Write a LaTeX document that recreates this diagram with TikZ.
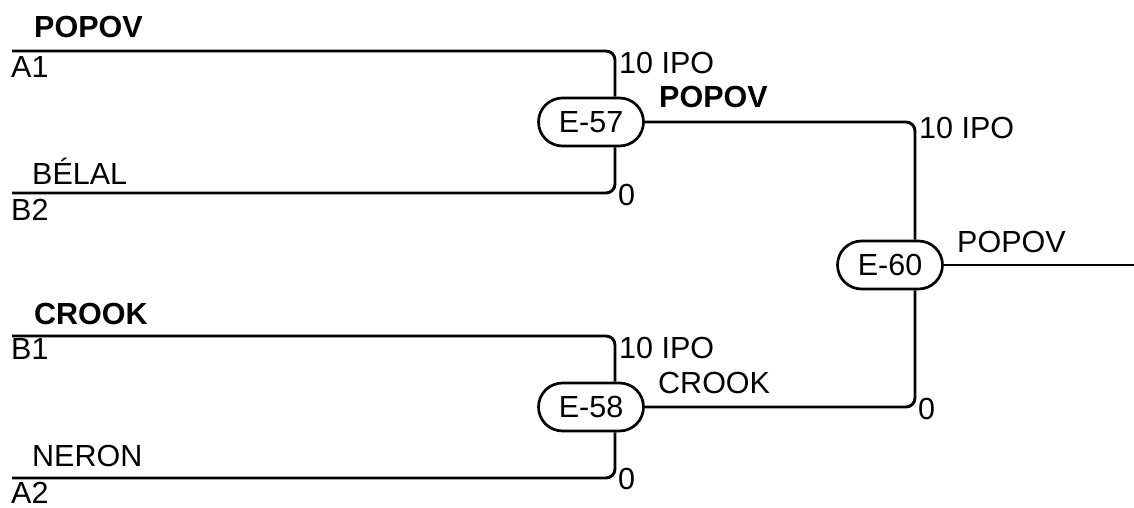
\documentclass[tikz,border=0pt]{standalone}
\usepackage{fontspec}
\setmainfont{Liberation Sans}
\usetikzlibrary{shapes.misc}
\begin{document}
\begin{tikzpicture}[x=1pt,y=-1pt,
  every node/.style={font=\fontsize{30.5}{36}\selectfont},
  lbl/.style={anchor=base west,inner sep=0pt},
  blbl/.style={lbl,font=\fontsize{30.5}{36}\selectfont\bfseries},
  stad/.style={draw,rounded rectangle,line width=2.7pt,minimum width=105pt,minimum height=48pt,inner sep=0pt},
  conn/.style={line width=2.9pt,rounded corners=9pt}]
\useasboundingbox (0,0) rectangle (1134,508);
% match nodes
\node[stad] (e57) at (591,122) {E-57};
\node[stad] (e58) at (591,407) {E-58};
\node[stad] (e60) at (890,265) {E-60};
% line starts
\coordinate (a1) at (12,51);
\coordinate (b2) at (12,193);
\coordinate (b1) at (12,336);
\coordinate (a2) at (12,478);
\coordinate (out) at (1134,265);
% connectors
\draw[conn] (a1) -| ([xshift=24pt]e57.north);
\draw[conn] (b2) -| ([xshift=24pt]e57.south);
\draw[conn] (b1) -| ([xshift=24pt]e58.north);
\draw[conn] (a2) -| ([xshift=24pt]e58.south);
\draw[conn] (e57.east) -| ([xshift=25pt]e60.north);
\draw[conn] (e58.east) -| ([xshift=25pt]e60.south);
\draw[conn] (e60.east) -- (out);
% left labels
\node[blbl] (t1) at (34,38) {POPOV};
\node[lbl] (t2) at (11,78) {A1};
\node[lbl] (t3) at (32,184) {BÉLAL};
\node[lbl] (t4) at (11,220) {B2};
\node[blbl] (t5) at (34,324) {CROOK};
\node[lbl] (t6) at (11,359) {B1};
\node[lbl] (t7) at (32,466) {NERON};
\node[lbl] (t8) at (11,503) {A2};
% right labels
\node[lbl] (r1) at (619,74) {10 IPO};
\node[lbl] (r2) at (618,205) {0};
\node[blbl] (r3) at (659,107) {POPOV};
\node[lbl] (r4) at (619,358) {10 IPO};
\node[lbl] (r5) at (618,489) {0};
\node[lbl] (r6) at (658,393) {CROOK};
\node[lbl] (r7) at (919,139) {10 IPO};
\node[lbl] (r8) at (918,419) {0};
\node[lbl] (r9) at (957,252) {POPOV};
\end{tikzpicture}
\end{document}
